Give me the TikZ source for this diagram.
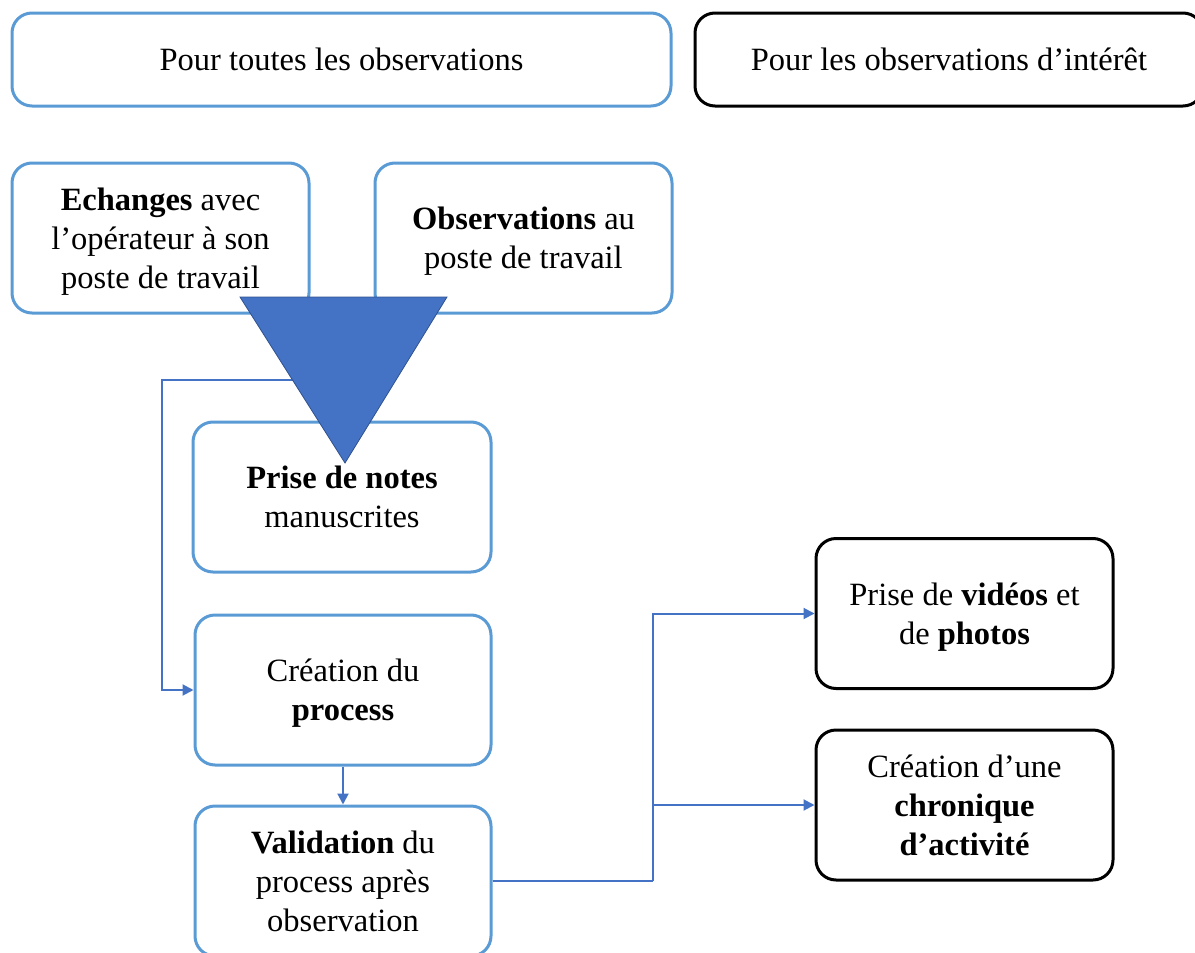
\documentclass[tikz,border=0pt]{standalone}
\usepackage{fontspec}
\setmainfont{Liberation Serif}
\usetikzlibrary{arrows.meta}
\definecolor{boxblue}{HTML}{5B9BD5}
\definecolor{flowblue}{HTML}{4472C4}
\definecolor{funneledge}{HTML}{2F528F}
\tikzset{
  headbox/.style = {draw=boxblue, line width=3pt, rounded corners=20pt,
                    minimum height=93pt, inner sep=0pt,
                    align=center, font=\fontsize{32.5}{39}\selectfont},
  stepbox/.style = {headbox, minimum width=297pt, minimum height=150pt,
                    text depth=-1pt},
  keyhead/.style = {headbox, draw=black},
  keybox/.style  = {stepbox, draw=black},
  flow/.style    = {-{Triangle[length=11pt,width=11pt]}, draw=flowblue,
                    line width=2pt},
}
\begin{document}
\begin{tikzpicture}[x=1pt, y=-1pt]
  \useasboundingbox (0,0) rectangle (1195,953);

  % headers
  \node[headbox, minimum width=659pt] (toutes) at (341.5, 59.5)
    {Pour toutes les observations};
  \node[keyhead, minimum width=508pt] (interet) at (949, 59.5)
    {Pour les observations d’intérêt};

  % sources
  \node[stepbox] (echanges) at (160.5, 238)
    {\textbf{Echanges} avec\\l’opérateur à son\\poste de travail};
  \node[stepbox] (observ) at (523.5, 238)
    {\textbf{Observations} au\\poste de travail};

  % main column
  \node[stepbox, minimum width=298pt] (notes) at (342, 497)
    {\textbf{Prise de notes}\\manuscrites};
  \node[stepbox, minimum width=296pt] (process) at (343, 690)
    {Création du\\\textbf{process}};
  \node[stepbox, minimum width=296pt] (valid) at (343, 881)
    {\textbf{Validation} du\\process après\\observation};

  % right column
  \node[keybox] (videos) at (964.5, 613.5)
    {Prise de \textbf{vidéos} et\\de \textbf{photos}};
  \node[keybox] (chronique) at (964.5, 805)
    {Création d’une\\\textbf{chronique}\\\textbf{d’activité}};

  % connectors
  \coordinate (funnel) at (345, 380);
  \coordinate (bend)   at (162, 380);
  \coordinate (split)  at (653, 881);
  \draw[flow] (funnel) -- (bend) |- (process.west);
  \draw[flow] (process.south) -- (valid.north);
  \draw[flow, -] (valid.east) -- (split);
  \draw[flow] (split) |- (videos.west);
  \draw[flow] (split) |- (chronique.west);

  % funnel
  \filldraw[fill=flowblue, draw=funneledge, line width=0.8pt]
    (240, 297) -- (447, 297) -- (345, 463) -- cycle;
\end{tikzpicture}
\end{document}
